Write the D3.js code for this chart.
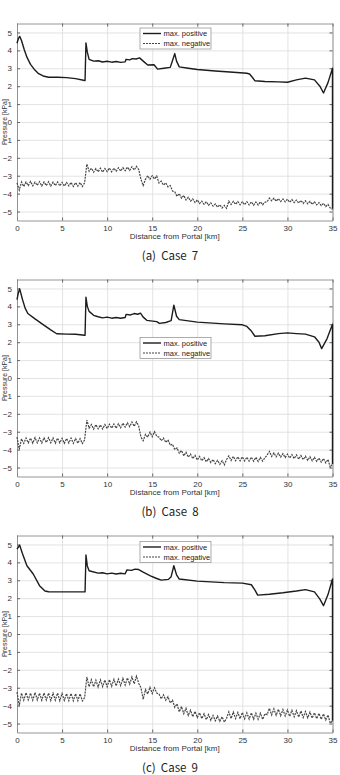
<!DOCTYPE html>
<html>
<head>
<meta charset="utf-8">
<script src="https://cdn.jsdelivr.net/npm/d3@7"></script>
<style>
  body { margin: 0; background: #fff; }
  svg { display: block; }
</style>
</head>
<body>
<div class="pressure-plot"></div>
<script>
// Ticks and captions
const xTicks = [0, 5, 10, 15, 20, 25, 30, 35]
const yTicks = [-5, -4, -3, -2, -1, 0, 1, 2, 3, 4, 5]
const captions = ["(a)  Case  7", "(b)  Case  8", "(c)  Case  9"]
const legendLabels = ["max. positive", "max. negative"]

// max. positive : [km, kPa]
const posCase7 = [[0,4.40],[0.15,4.65],[0.3,4.78],[0.5,4.55],[0.8,4.05],[1.1,3.62],[1.5,3.22],[1.9,2.95],[2.4,2.70],[2.9,2.57],
  [3.5,2.50],[4.5,2.50],[5.5,2.48],[6.5,2.42],[7.5,2.32],[7.55,2.32],[7.65,4.42],[7.8,3.90],[8.0,3.50],[8.5,3.40],
  [9.0,3.42],[9.5,3.35],[10.0,3.39],[10.5,3.34],[11.0,3.38],[11.5,3.33],[12.0,3.36],[12.1,3.50],[12.5,3.47],[12.8,3.54],
  [13.2,3.52],[13.6,3.58],[14.0,3.40],[14.5,3.18],[15.2,3.20],
  [15.6,2.95],[16.3,3.00],[17.0,3.05],[17.3,3.50],[17.5,3.82],[17.7,3.40],[18.0,3.08],[19.0,3.00],[20.0,2.93],[22.0,2.85],
  [24.0,2.78],[25.5,2.72],[25.8,2.68],[26.1,2.50],[26.4,2.30],[27.5,2.26],[29.0,2.24],[30.0,2.22],[31.0,2.35],[32.0,2.45],
  [33.0,2.35],[33.6,2.00],[34.0,1.62],[34.5,2.20],[35,3.00],[35,-4.85]]
const posCase8 = [[0,4.38],[0.15,4.75],[0.3,4.98],[0.6,4.40],[0.9,3.90],[1.2,3.60],[2.0,3.30],[2.9,2.98],[3.7,2.70],[4.4,2.47],
  [5.5,2.45],[6.5,2.44],[7.5,2.39],[7.55,2.39],[7.65,4.51],[7.8,4.00],[8.0,3.72],[8.5,3.50],[9.0,3.42],[9.5,3.36],
  [10.0,3.40],[10.5,3.34],[11.0,3.38],[11.5,3.34],[12.0,3.38],[12.1,3.55],[12.6,3.52],[13.0,3.60],[13.4,3.56],[13.7,3.62],
  [14.0,3.40],[14.4,3.22],[15.5,3.15],[15.8,3.05],[16.5,3.10],[17.1,3.20],
  [17.4,4.07],[17.7,3.45],[18.0,3.26],[20.0,3.12],[23.0,3.02],[25.0,2.97],[25.5,2.88],[26.0,2.62],[26.4,2.33],[27.5,2.36],
  [29.0,2.48],[30.0,2.52],[31.0,2.48],[32.0,2.45],[33.0,2.30],[33.5,2.00],[33.8,1.64],[34.4,2.20],[35,3.00],[35,-4.80]]
const posCase9 = [[0,4.74],[0.15,4.85],[0.3,4.96],[0.6,4.50],[1.1,3.81],[1.8,3.35],[2.5,2.70],[3.1,2.40],[3.5,2.36],[5.0,2.35],
  [6.5,2.35],[7.5,2.35],[7.55,2.35],[7.65,4.41],[7.8,3.80],[8.0,3.53],[9.0,3.40],[9.5,3.42],[10.0,3.36],[10.5,3.40],
  [11.0,3.35],[11.5,3.39],[12.0,3.36],[12.2,3.58],[12.7,3.55],[13.1,3.62],[13.5,3.60],[14.0,3.45],[14.8,3.25],[15.5,3.10],
  [16.0,3.01],[16.8,3.05],[17.1,3.20],[17.4,3.81],[17.7,3.30],[18.0,3.07],
  [20.0,2.95],[23.0,2.87],[25.0,2.84],[26.0,2.75],[26.4,2.45],[26.7,2.17],[28.0,2.22],[29.5,2.30],[31.0,2.40],[32.0,2.48],
  [33.0,2.35],[33.6,1.95],[34.0,1.58],[34.5,2.20],[35,3.07],[35,-4.85]]

// max. negative : kPa, sampled every 0.25 km from 0 to 35 km
const negStepKm = 0.25
const negCase7 = [
  -3.40,-3.80,-3.35,-3.60,-3.35,-3.55,-3.32,-3.56,-3.36,-3.54,
  -3.33,-3.57,-3.35,-3.55,-3.34,-3.58,-3.36,-3.55,-3.35,-3.57,
  -3.37,-3.58,-3.38,-3.57,-3.37,-3.60,-3.39,-3.58,-3.38,-3.60,
  -3.40,-2.35,-2.75,-2.58,-2.80,-2.60,-2.78,-2.58,-2.80,-2.60,
  -2.77,-2.57,-2.78,-2.58,-2.75,-2.56,-2.74,-2.55,-2.72,-2.52,
  -2.70,-2.50,-2.68,-2.48,-2.65,-3.20,-3.55,-3.20,-3.00,-3.20,
  -3.00,-3.18,-3.02,-3.40,-3.30,-3.52,-3.40,-3.62,-3.55,-3.85,
  -3.90,-4.15,-4.00,-4.25,-4.10,-4.35,-4.20,-4.42,-4.30,-4.50,
  -4.35,-4.55,-4.42,-4.60,-4.45,-4.65,-4.52,-4.70,-4.58,-4.75,
  -4.62,-4.80,-4.66,-4.82,-4.42,-4.60,-4.43,-4.60,-4.44,-4.62,
  -4.45,-4.62,-4.45,-4.63,-4.46,-4.64,-4.47,-4.63,-4.46,-4.62,
  -4.48,-4.45,-4.25,-4.40,-4.26,-4.42,-4.28,-4.44,-4.30,-4.46,
  -4.31,-4.48,-4.33,-4.50,-4.36,-4.52,-4.38,-4.55,-4.40,-4.57,
  -4.43,-4.60,-4.46,-4.63,-4.50,-4.67,-4.54,-4.72,-4.60,-4.80,
  -4.88]
const negCase8 = [
  -3.30,-3.98,-3.40,-3.65,-3.35,-3.62,-3.36,-3.64,-3.33,-3.62,
  -3.35,-3.63,-3.34,-3.60,-3.33,-3.62,-3.35,-3.64,-3.36,-3.62,
  -3.37,-3.65,-3.38,-3.63,-3.36,-3.65,-3.38,-3.64,-3.39,-3.66,
  -3.45,-2.35,-2.80,-2.60,-2.85,-2.60,-2.84,-2.62,-2.85,-2.60,
  -2.82,-2.58,-2.80,-2.57,-2.80,-2.55,-2.78,-2.52,-2.74,-2.50,
  -2.72,-2.46,-2.70,-2.45,-2.68,-3.30,-3.50,-3.15,-3.30,-3.02,
  -3.28,-3.00,-3.25,-3.30,-3.50,-3.35,-3.60,-3.45,-3.75,-3.70,
  -4.00,-3.90,-4.20,-4.05,-4.35,-4.15,-4.42,-4.25,-4.50,-4.32,
  -4.58,-4.38,-4.62,-4.45,-4.68,-4.50,-4.72,-4.55,-4.78,-4.60,
  -4.82,-4.62,-4.85,-4.55,-4.35,-4.60,-4.38,-4.62,-4.40,-4.62,
  -4.40,-4.63,-4.42,-4.64,-4.42,-4.65,-4.43,-4.66,-4.44,-4.64,
  -4.45,-4.30,-4.10,-4.38,-4.18,-4.40,-4.20,-4.42,-4.22,-4.44,
  -4.25,-4.47,-4.28,-4.50,-4.30,-4.53,-4.33,-4.56,-4.37,-4.60,
  -4.40,-4.63,-4.43,-4.66,-4.47,-4.70,-4.50,-4.74,-4.55,-4.98,
  -4.80]
const negCase9 = [
  -3.25,-4.00,-3.30,-3.70,-3.28,-3.68,-3.30,-3.70,-3.27,-3.68,
  -3.30,-3.70,-3.29,-3.69,-3.30,-3.71,-3.31,-3.70,-3.30,-3.72,
  -3.32,-3.71,-3.33,-3.72,-3.32,-3.73,-3.33,-3.72,-3.34,-3.74,
  -3.55,-2.40,-2.95,-2.55,-2.95,-2.58,-2.96,-2.56,-2.94,-2.57,
  -2.95,-2.55,-2.92,-2.53,-2.90,-2.52,-2.88,-2.48,-2.85,-2.45,
  -2.80,-2.40,-2.78,-2.36,-2.75,-3.00,-3.65,-3.10,-3.35,-2.98,
  -3.32,-3.00,-3.30,-3.35,-3.62,-3.40,-3.70,-3.50,-3.85,-3.70,
  -4.10,-3.90,-4.35,-4.05,-4.45,-4.15,-4.55,-4.25,-4.62,-4.32,
  -4.66,-4.40,-4.72,-4.45,-4.78,-4.50,-4.82,-4.55,-4.85,-4.58,
  -4.88,-4.62,-4.92,-4.70,-4.35,-4.72,-4.36,-4.72,-4.38,-4.73,
  -4.38,-4.74,-4.40,-4.75,-4.40,-4.76,-4.42,-4.76,-4.42,-4.77,
  -4.45,-4.50,-4.15,-4.52,-4.18,-4.54,-4.20,-4.56,-4.22,-4.58,
  -4.24,-4.60,-4.26,-4.62,-4.28,-4.64,-4.30,-4.66,-4.33,-4.68,
  -4.36,-4.70,-4.40,-4.73,-4.43,-4.76,-4.46,-4.80,-4.52,-4.98,
  -4.85]

const panels = [
  {pos: posCase7, neg: negCase7, caption: captions[0], legendTop: 4.5},
  {pos: posCase8, neg: negCase8, caption: captions[1], legendTop: 58},
  {pos: posCase9, neg: negCase9, caption: captions[2], legendTop: 6}
]

// Layout
const svgWidth = 340, svgHeight = 775
const panelStep = 256
const plotLeft = 17, plotRight = 332.5, plotTop = 23.5, plotBottom = 220.5
const font = "'Liberation Sans', Arial, sans-serif"

const svg = d3.select(".pressure-plot")
  .append("svg")
  .attr("width", svgWidth)
  .attr("height", svgHeight)

const xScale = d3.scaleLinear().domain([0, 35]).range([plotLeft, plotRight])
const yScale = d3.scaleLinear().domain([-5.5, 5.5]).range([plotBottom, plotTop])

const posLine = d3.line().x(d => xScale(d[0])).y(d => yScale(d[1]))
const negLine = d3.line().x((d, i) => xScale(i * negStepKm)).y(d => yScale(d))

panels.forEach((p, k) => {
  const g = svg.append("g").attr("transform", `translate(0, ${k * panelStep})`)

  // grid
  g.append("g")
   .attr("transform", `translate(0, ${plotBottom})`)
   .call(d3.axisBottom(xScale).tickValues(xTicks).tickSize(-(plotBottom - plotTop)).tickFormat(""))
   .call(a => a.select(".domain").remove())
   .call(a => a.selectAll("line").attr("stroke", "#dcdcdc").attr("stroke-width", 0.8))
  g.append("g")
   .attr("transform", `translate(${plotLeft}, 0)`)
   .call(d3.axisLeft(yScale).tickValues(yTicks).tickSize(-(plotRight - plotLeft)).tickFormat(""))
   .call(a => a.select(".domain").remove())
   .call(a => a.selectAll("line").attr("stroke", "#dcdcdc").attr("stroke-width", 0.8))

  // inward ticks on all four sides, with labels bottom and left
  const xb = g.append("g").attr("transform", `translate(0, ${plotBottom})`)
    .call(d3.axisBottom(xScale).tickValues(xTicks).tickSizeInner(-3).tickSizeOuter(0).tickPadding(5))
  const xt = g.append("g").attr("transform", `translate(0, ${plotTop})`)
    .call(d3.axisTop(xScale).tickValues(xTicks).tickSizeInner(-3).tickSizeOuter(0).tickFormat(""))
  const yl = g.append("g").attr("transform", `translate(${plotLeft}, 0)`)
    .call(d3.axisLeft(yScale).tickValues(yTicks).tickSizeInner(-3).tickSizeOuter(0).tickPadding(5))
  const yr = g.append("g").attr("transform", `translate(${plotRight}, 0)`)
    .call(d3.axisRight(yScale).tickValues(yTicks).tickSizeInner(-3).tickSizeOuter(0).tickFormat(""))
  ;[xb, xt, yl, yr].forEach(a => {
    a.select(".domain").attr("stroke", "#8a8a8a").attr("stroke-width", 0.9)
    a.selectAll(".tick line").attr("stroke", "#666")
    a.selectAll("text").attr("font-family", font).attr("font-size", 8).attr("fill", "#333")
  })

  // series
  g.append("path")
   .datum(p.neg)
   .attr("d", negLine)
   .attr("fill", "none")
   .attr("stroke", "#444")
   .attr("stroke-width", 1.2)
   .attr("stroke-dasharray", "2,1")
  g.append("path")
   .datum(p.pos)
   .attr("d", posLine)
   .attr("fill", "none")
   .attr("stroke", "#1c1c1c")
   .attr("stroke-width", 1.4)
   .attr("stroke-linejoin", "round")

  // axis titles
  g.append("text")
   .attr("x", (plotLeft + plotRight) / 2)
   .attr("y", plotBottom + 18.5)
   .attr("text-anchor", "middle")
   .attr("font-family", font).attr("font-size", 8).attr("fill", "#333")
   .text("Distance from Portal [km]")
  g.append("text")
   .attr("transform", `translate(6.5, ${(plotTop + plotBottom) / 2}) rotate(-90)`)
   .attr("text-anchor", "middle")
   .attr("font-family", font).attr("font-size", 7).attr("fill", "#333")
   .text("Pressure [kPa]")

  // legend
  const lg = g.append("g").attr("transform", `translate(140, ${plotTop + p.legendTop})`)
  lg.append("rect")
    .attr("width", 71).attr("height", 21)
    .attr("fill", "#fff").attr("stroke", "#9a9a9a").attr("stroke-width", 0.8)
  legendLabels.forEach((lab, i) => {
    const ly = 5.5 + i * 10
    lg.append("line")
      .attr("x1", 3).attr("x2", 21).attr("y1", ly).attr("y2", ly)
      .attr("stroke", i === 0 ? "#1c1c1c" : "#444")
      .attr("stroke-width", i === 0 ? 1.4 : 1.2)
      .attr("stroke-dasharray", i === 0 ? null : "2,1")
    lg.append("text")
      .attr("x", 23.5).attr("y", ly).attr("dy", "0.35em")
      .attr("font-family", font).attr("font-size", 7.5).attr("fill", "#222")
      .text(lab)
  })

  // caption
  g.append("text")
   .attr("x", 170)
   .attr("y", plotBottom + 39)
   .attr("text-anchor", "middle")
   .attr("font-family", "'Noto Sans CJK KR', 'Noto Sans', sans-serif")
   .attr("font-size", 11.5).attr("fill", "#222")
   .style("white-space", "pre")
   .text(p.caption)
})
</script>
</body>
</html>
